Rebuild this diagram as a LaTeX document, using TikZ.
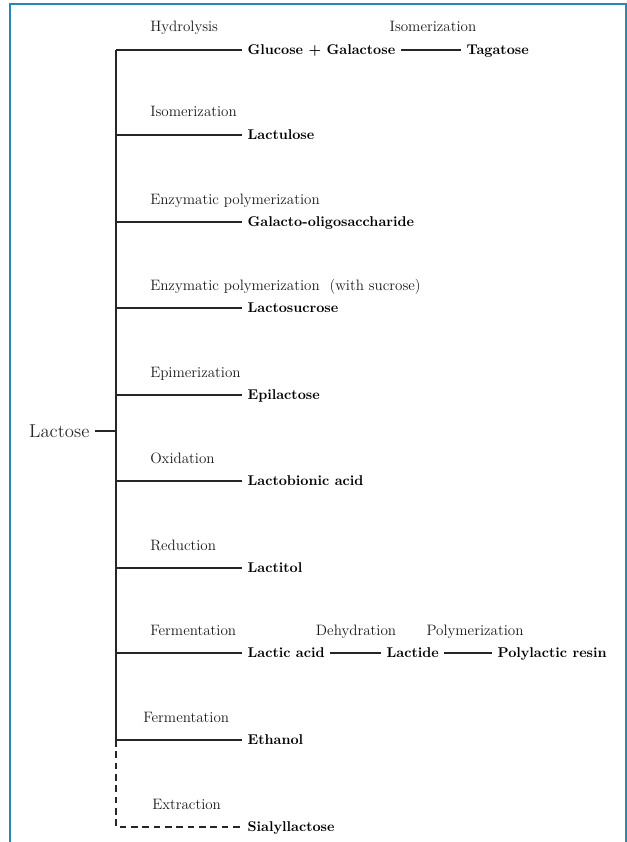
\documentclass[tikz,border=0pt]{standalone}
\usepackage{tikz}
\usetikzlibrary{positioning,calc}
\usepackage{xcolor}
\definecolor{framecol}{RGB}{38,138,178}
\newcommand{\trunkx}{116}

\begin{document}
\begin{tikzpicture}[x=0.75pt,y=-0.75pt,
    route/.style={font=\fontsize{11.3}{13}\selectfont,text=black!90,anchor=base west,inner sep=0pt},
    product/.style={font=\bfseries\fontsize{10.6}{12}\selectfont,anchor=west,inner xsep=4pt,inner ysep=0pt,text height=7.2pt,text depth=0pt},
    link/.style={line width=0.9pt,black!85}]
\useasboundingbox (0,0) rectangle (627,842);
\draw[framecol,line width=1.5pt] (10,842) -- (10,4) -- (626,4) -- (626,842);
\node[font=\fontsize{14}{16}\selectfont,text=black!85,anchor=east,inner xsep=4pt,inner ysep=0pt] (lac) at (95,431) {Lactose};
\coordinate (tl) at (\trunkx,431);
\foreach \i/\y/\lx/\r/\p in {1/50/150/Hydrolysis/{Glucose + Galactose},
    2/135/150/Isomerization/Lactulose,
    3/222/150/{Enzymatic polymerization}/Galacto-oligosaccharide,
    4/308/150/{Enzymatic polymerization\ \ (with sucrose)}/Lactosucrose,
    5/395/150/Epimerization/Epilactose,
    6/481/150/Oxidation/{Lactobionic acid},
    7/568/150/Reduction/Lactitol,
    8/653/150/Fermentation/{Lactic acid},
    9/740/143/Fermentation/Ethanol,
    10/827/152/Extraction/Sialyllactose}{
    \coordinate (t\i) at (\trunkx,\y);
    \node[route] (r\i) at (\lx,\y-18) {\r};
    \node[product] (p\i) at (242,\y) {\p};
}
\draw[link] (t1) -- (t9);
\draw[link,dash pattern=on 5pt off 3.5pt] (t9) |- (p10.west);
\foreach \i in {1,...,9}{\draw[link] (t\i) -- (p\i.west);}
\draw[link] (lac.east) -- (tl);
\node[product] (tag) at (461,50) {Tagatose};
\node[route,anchor=base] (iso) at (433,32) {Isomerization};
\draw[link] (p1.east) -- (tag.west);
\node[product] (lactide) at (381,653) {Lactide};
\node[product] (plres) at (492,653) {Polylactic resin};
\node[route,anchor=base] (dehyd) at (356,635) {Dehydration};
\node[route,anchor=base] (poly) at (475,635) {Polymerization};
\draw[link] (p8.east) -- (lactide.west);
\draw[link] (lactide.east) -- (plres.west);
\end{tikzpicture}
\end{document}
